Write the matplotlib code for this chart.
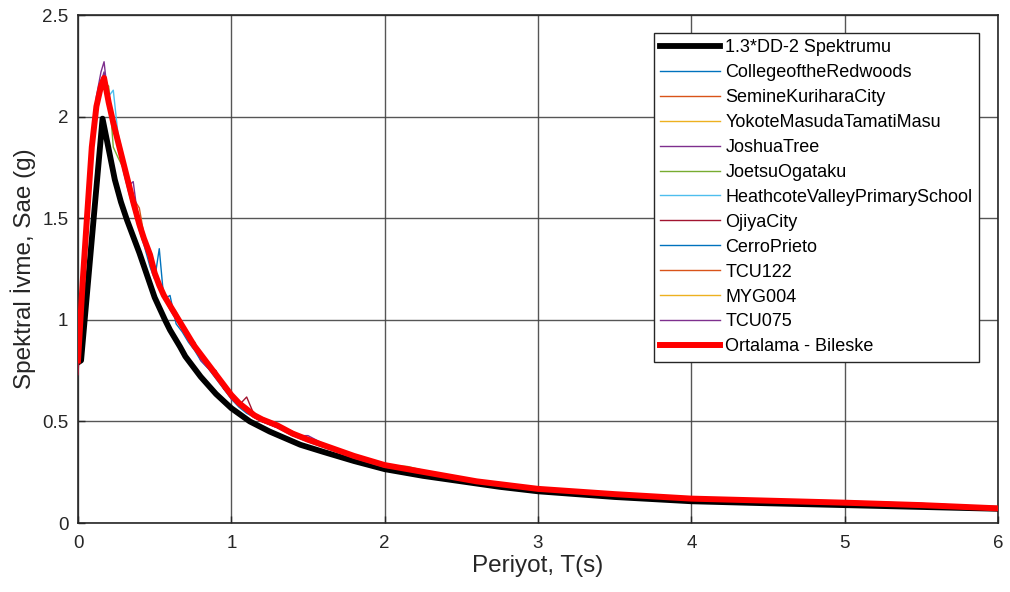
import matplotlib
matplotlib.use("Agg")
import matplotlib.pyplot as plt

plt.rcParams['font.family'] = ['Liberation Sans', 'DejaVu Sans']

# Target spectrum (1.3*DD-2)
T_target = [0, 0.02, 0.16, 0.2, 0.24, 0.28, 0.32, 0.36, 0.4, 0.45, 0.5, 0.567, 0.6, 0.665, 0.7,
            0.8, 0.9, 1.0, 1.12, 1.25, 1.45, 1.6, 1.8, 2.0, 2.25, 2.5, 2.75, 3.0, 3.5, 4.0,
            4.5, 5.0, 5.5, 6.0]
Sa_target = [0.79, 0.80, 1.99, 1.84, 1.69, 1.58, 1.49, 1.41, 1.33, 1.22, 1.11, 1.00, 0.95, 0.868, 0.82,
             0.72, 0.635, 0.565, 0.50, 0.45, 0.385, 0.35, 0.305, 0.265, 0.232, 0.205, 0.178, 0.156, 0.128, 0.107,
             0.097, 0.088, 0.079, 0.07]

# Period grid of the scaled records
T_rec = [0, 0.03, 0.06, 0.09, 0.12, 0.15, 0.17, 0.2, 0.23, 0.26, 0.3, 0.33, 0.36, 0.4, 0.43, 0.47,
         0.5, 0.53, 0.56, 0.6, 0.64, 0.68, 0.72, 0.76, 0.8, 0.85, 0.9, 0.95, 1.0, 1.05, 1.1, 1.15,
         1.2, 1.3, 1.4, 1.5, 1.65, 1.8, 2.0, 2.15, 2.3, 2.6, 3.0, 3.5, 4.0, 4.5, 5.0, 5.5, 6.0]

record_names = ["CollegeoftheRedwoods", "SemineKuriharaCity", "YokoteMasudaTamatiMasu",
                "JoshuaTree", "JoetsuOgataku", "HeathcoteValleyPrimarySchool", "OjiyaCity",
                "CerroPrieto", "TCU122", "MYG004", "TCU075"]

college = [0.78, 1.15, 1.50, 1.80, 2.02, 2.12, 2.15, 2.05, 1.95, 1.86, 1.72, 1.63, 1.55, 1.44, 1.37, 1.26,
           1.20, 1.35, 1.10, 1.12, 0.98, 0.94, 0.89, 0.85, 0.80, 0.76, 0.71, 0.66, 0.61, 0.57, 0.54, 0.52,
           0.50, 0.47, 0.43, 0.40, 0.36, 0.32, 0.275, 0.26, 0.24, 0.20, 0.165, 0.14, 0.118, 0.107, 0.097, 0.085, 0.066]
semine = [0.81, 1.20, 1.55, 1.88, 2.08, 2.18, 2.20, 2.06, 1.98, 1.90, 1.78, 1.68, 1.60, 1.55, 1.42, 1.33,
          1.24, 1.16, 1.13, 1.08, 1.03, 0.98, 0.93, 0.88, 0.84, 0.77, 0.72, 0.69, 0.64, 0.60, 0.57, 0.54,
          0.51, 0.48, 0.45, 0.41, 0.37, 0.33, 0.29, 0.27, 0.25, 0.21, 0.17, 0.143, 0.121, 0.11, 0.10, 0.089, 0.073]
yokote = [0.80, 1.17, 1.53, 1.86, 2.06, 2.17, 2.18, 2.08, 1.99, 1.89, 1.77, 1.69, 1.57, 1.46, 1.41, 1.33,
          1.24, 1.18, 1.11, 1.08, 1.04, 0.98, 0.91, 0.86, 0.82, 0.79, 0.74, 0.68, 0.63, 0.60, 0.56, 0.53,
          0.51, 0.49, 0.44, 0.41, 0.37, 0.33, 0.28, 0.27, 0.245, 0.205, 0.168, 0.142, 0.12, 0.11, 0.10, 0.088, 0.072]
joshua = [0.79, 1.19, 1.54, 1.88, 2.10, 2.22, 2.27, 2.06, 1.96, 1.87, 1.75, 1.66, 1.68, 1.45, 1.38, 1.30,
          1.22, 1.15, 1.11, 1.05, 1.00, 0.96, 0.90, 0.89, 0.80, 0.76, 0.72, 0.67, 0.61, 0.58, 0.55, 0.52,
          0.50, 0.47, 0.43, 0.43, 0.37, 0.33, 0.28, 0.26, 0.245, 0.205, 0.168, 0.143, 0.122, 0.113, 0.107, 0.096, 0.079]
joetsu = [0.80, 1.18, 1.51, 1.84, 2.04, 2.14, 2.17, 2.15, 1.85, 1.80, 1.74, 1.67, 1.59, 1.48, 1.40, 1.32,
          1.23, 1.17, 1.12, 1.06, 1.02, 0.97, 0.93, 0.87, 0.82, 0.78, 0.74, 0.68, 0.63, 0.59, 0.56, 0.53,
          0.51, 0.48, 0.44, 0.41, 0.37, 0.33, 0.285, 0.278, 0.25, 0.205, 0.17, 0.142, 0.12, 0.11, 0.10, 0.088, 0.072]
heathcote = [0.80, 1.17, 1.50, 1.83, 2.03, 2.14, 2.18, 2.10, 2.13, 1.92, 1.79, 1.69, 1.59, 1.49, 1.40, 1.31,
             1.22, 1.16, 1.12, 1.07, 1.01, 0.97, 0.92, 0.87, 0.83, 0.78, 0.73, 0.68, 0.63, 0.59, 0.55, 0.52,
             0.50, 0.47, 0.44, 0.41, 0.37, 0.33, 0.28, 0.26, 0.24, 0.20, 0.165, 0.14, 0.118, 0.105, 0.094, 0.081, 0.064]
ojiya = [0.73, 1.14, 1.50, 1.84, 2.04, 2.13, 2.16, 2.05, 1.96, 1.89, 1.77, 1.66, 1.57, 1.48, 1.41, 1.33,
         1.23, 1.17, 1.12, 1.07, 1.02, 0.96, 0.92, 0.86, 0.82, 0.77, 0.75, 0.66, 0.62, 0.58, 0.62, 0.53,
         0.50, 0.48, 0.44, 0.41, 0.37, 0.33, 0.285, 0.265, 0.245, 0.205, 0.168, 0.142, 0.12, 0.11, 0.10, 0.088, 0.072]
cerro = [0.80, 1.18, 1.53, 1.86, 2.05, 2.14, 2.17, 2.06, 1.97, 1.87, 1.75, 1.66, 1.57, 1.46, 1.39, 1.31,
         1.22, 1.16, 1.11, 1.06, 1.01, 0.96, 0.91, 0.86, 0.82, 0.78, 0.72, 0.67, 0.62, 0.58, 0.55, 0.52,
         0.50, 0.47, 0.44, 0.41, 0.365, 0.325, 0.28, 0.26, 0.24, 0.20, 0.165, 0.14, 0.118, 0.108, 0.098, 0.086, 0.070]
tcu122 = [0.81, 1.19, 1.52, 1.85, 2.06, 2.15, 2.18, 2.08, 1.98, 1.89, 1.77, 1.68, 1.58, 1.50, 1.42, 1.32,
          1.24, 1.18, 1.13, 1.07, 1.03, 0.98, 0.92, 0.89, 0.83, 0.79, 0.72, 0.69, 0.63, 0.59, 0.56, 0.53,
          0.51, 0.48, 0.44, 0.41, 0.37, 0.33, 0.29, 0.268, 0.248, 0.207, 0.17, 0.143, 0.121, 0.111, 0.10, 0.089, 0.073]
myg004 = [0.80, 1.19, 1.53, 1.85, 2.05, 2.16, 2.20, 2.09, 1.98, 1.88, 1.77, 1.67, 1.58, 1.48, 1.41, 1.34,
          1.24, 1.17, 1.12, 1.08, 1.03, 0.98, 0.92, 0.88, 0.83, 0.78, 0.74, 0.68, 0.64, 0.60, 0.56, 0.53,
          0.52, 0.48, 0.44, 0.41, 0.37, 0.33, 0.285, 0.27, 0.245, 0.205, 0.168, 0.142, 0.12, 0.11, 0.10, 0.088, 0.072]
tcu075 = [0.80, 1.18, 1.52, 1.85, 2.06, 2.17, 2.22, 2.07, 1.96, 1.88, 1.76, 1.67, 1.60, 1.47, 1.40, 1.31,
          1.22, 1.17, 1.11, 1.06, 1.01, 0.97, 0.92, 0.86, 0.82, 0.77, 0.73, 0.68, 0.62, 0.58, 0.55, 0.52,
          0.50, 0.47, 0.44, 0.41, 0.375, 0.33, 0.285, 0.265, 0.245, 0.205, 0.17, 0.145, 0.124, 0.116, 0.108, 0.096, 0.078]

records = [college, semine, yokote, joshua, joetsu, heathcote, ojiya, cerro, tcu122, myg004, tcu075]

# Mean spectrum (Ortalama - Bileske)
Sa_mean = [0.80, 1.18, 1.52, 1.85, 2.05, 2.15, 2.19, 2.07, 1.97, 1.88, 1.76, 1.67, 1.58, 1.47, 1.40, 1.32,
           1.23, 1.17, 1.12, 1.07, 1.02, 0.97, 0.92, 0.87, 0.83, 0.78, 0.73, 0.68, 0.63, 0.59, 0.56, 0.53,
           0.51, 0.48, 0.44, 0.41, 0.37, 0.33, 0.285, 0.265, 0.245, 0.205, 0.168, 0.142, 0.12, 0.11, 0.10, 0.088, 0.072]

colors = ['#0072BD', '#D95319', '#EDB120', '#7E2F8E', '#77AC30', '#4DBEEE', '#A2142F']

x_ticks = [0, 1, 2, 3, 4, 5, 6]
y_ticks = [0, 0.5, 1, 1.5, 2, 2.5]
y_ticklabels = ['0', '0.5', '1', '1.5', '2', '2.5']

fig = plt.figure(figsize=(10.10, 5.92), dpi=100)
ax = fig.add_axes([78/1010, 1 - 523/592, 920/1010, 508/592])

ax.plot(T_target, Sa_target, color='black', lw=4.2, label='1.3*DD-2 Spektrumu', zorder=3,
        solid_joinstyle='round')
for i, (name, vals) in enumerate(zip(record_names, records)):
    ax.plot(T_rec, vals, color=colors[i % len(colors)], lw=1.0, label=name, zorder=4)
ax.plot(T_rec, Sa_mean, color='#FF0000', lw=4.3, label='Ortalama - Bileske', zorder=5,
        solid_joinstyle='round')

ax.set_xlim(0, 6)
ax.set_ylim(0, 2.5)
ax.set_xticks(x_ticks)
ax.set_yticks(y_ticks)
ax.set_yticklabels(y_ticklabels)
ax.grid(True, color='#444444', lw=1.0, alpha=0.9)
ax.set_axisbelow(True)
ax.tick_params(direction='in', length=5, width=1.0, colors='#262626', labelsize=13.5, pad=9)
ax.tick_params(axis='y', pad=7)
for s in ax.spines.values():
    s.set_color('#262626')
    s.set_linewidth(1.2)

ax.set_xlabel('Periyot, T(s)', fontsize=17.5, color='#262626', labelpad=2)
ax.set_ylabel('Spektral İvme, Sae (g)', fontsize=17.5, color='#262626', labelpad=4)

leg = ax.legend(loc='upper right', bbox_to_anchor=(0.979, 0.965), fontsize=13,
                frameon=True, fancybox=False, framealpha=1, edgecolor='#262626',
                handlelength=3.3, handletextpad=0.3, borderpad=0.35, labelspacing=0.44,
                borderaxespad=0)
leg.get_frame().set_linewidth(1.0)

fig.savefig('out.png', dpi=100)
